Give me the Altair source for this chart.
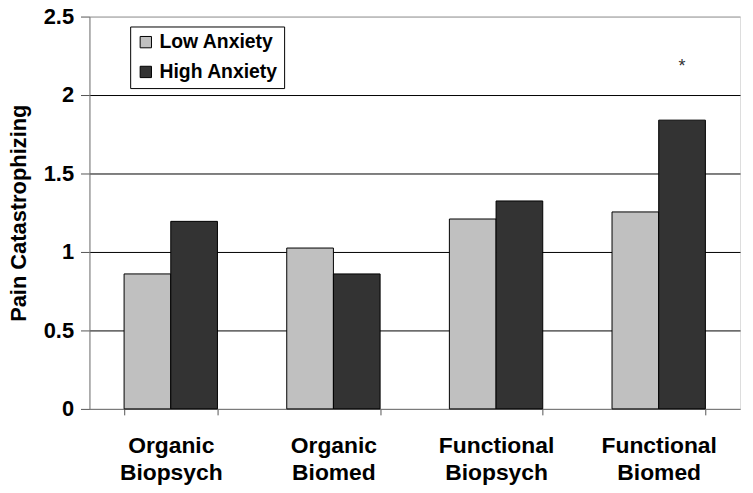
import altair as alt
import pandas as pd

categories = ["Organic Biopsych", "Organic Biomed", "Functional Biopsych", "Functional Biomed"]
series = ["Low Anxiety", "High Anxiety"]
low_anxiety = [0.86, 1.025, 1.21, 1.255]
high_anxiety = [1.195, 0.86, 1.325, 1.84]
colors = ["#c0c0c0", "#333333"]
star_category = "Functional Biomed"
star_series = "High Anxiety"
star_value = 2.18

rows = []
for c, lo, hi in zip(categories, low_anxiety, high_anxiety):
    rows.append({"category": c, "series": series[0], "value": lo})
    rows.append({"category": c, "series": series[1], "value": hi})
df = pd.DataFrame(rows)
star_df = pd.DataFrame([{"category": star_category, "series": star_series, "value": star_value, "label": "*"}])

x_enc = alt.X("category:N", sort=categories, title=None,
              scale=alt.Scale(paddingInner=0.426, paddingOuter=0.213),
              axis=alt.Axis(labelExpr="split(datum.label, ' ')", labelAngle=0,
                            labelFontSize=23, labelFontWeight="bold", labelColor="black",
                            labelLineHeight=27, labelPadding=20, labelFont="Liberation Sans",
                            tickBand="extent", tickSize=6, tickColor="#555555",
                            domainColor="#777777", grid=False))
xo_enc = alt.XOffset("series:N", sort=series, scale=alt.Scale(paddingInner=0, paddingOuter=0))
y_scale = alt.Scale(domain=[0, 2.5], nice=False, zero=True)

bars = alt.Chart(df).mark_bar(stroke="black", strokeWidth=1).encode(
    x=x_enc,
    xOffset=xo_enc,
    y=alt.Y("value:Q", scale=y_scale, title="Pain Catastrophizing",
            axis=alt.Axis(values=[0, 0.5, 1, 1.5, 2, 2.5], format="~g",
                          labelFontSize=22, labelFontWeight="bold", labelColor="black",
                          labelFont="Liberation Sans", labelPadding=7,
                          tickSize=9, tickColor="#555555", domainColor="#777777",
                          titleFontSize=22, titleFontWeight="bold", titleColor="black",
                          titleFont="Liberation Sans", titlePadding=13,
                          grid=True,
                          gridColor={"condition": {"test": "datum.value == 0 || datum.value == 2.5", "value": "#999999"}, "value": "black"},
                          gridWidth=1)),
    color=alt.Color("series:N", sort=series,
                    scale=alt.Scale(domain=series, range=colors),
                    legend=alt.Legend(title=None, orient="none", legendX=41, legendY=10,
                                      direction="vertical",
                                      symbolType="square", symbolSize=130,
                                      symbolStrokeColor="black", symbolStrokeWidth=1,
                                      labelFontSize=19.5, labelFontWeight="bold",
                                      labelColor="black", labelFont="Liberation Sans",
                                      rowPadding=9, padding=6, labelOffset=4,
                                      strokeColor="black", fillColor="white")),
)

star = alt.Chart(star_df).mark_text(fontSize=18, color="#333333", baseline="middle",
                                     font="Liberation Sans").encode(
    x=alt.X("category:N", sort=categories),
    xOffset=alt.XOffset("series:N", sort=series),
    y=alt.Y("value:Q", scale=y_scale),
    text="label:N",
)

chart = alt.layer(bars, star).properties(
    width=655, height=395,
    autosize=alt.AutoSizeParams(type="none"),
    padding={"left": 82, "top": 7, "right": 5, "bottom": 75},
).configure_view(stroke="#999999", strokeWidth=1).configure(background="white")

chart.save("out.html", embed_options={"renderer": "svg", "actions": False})
